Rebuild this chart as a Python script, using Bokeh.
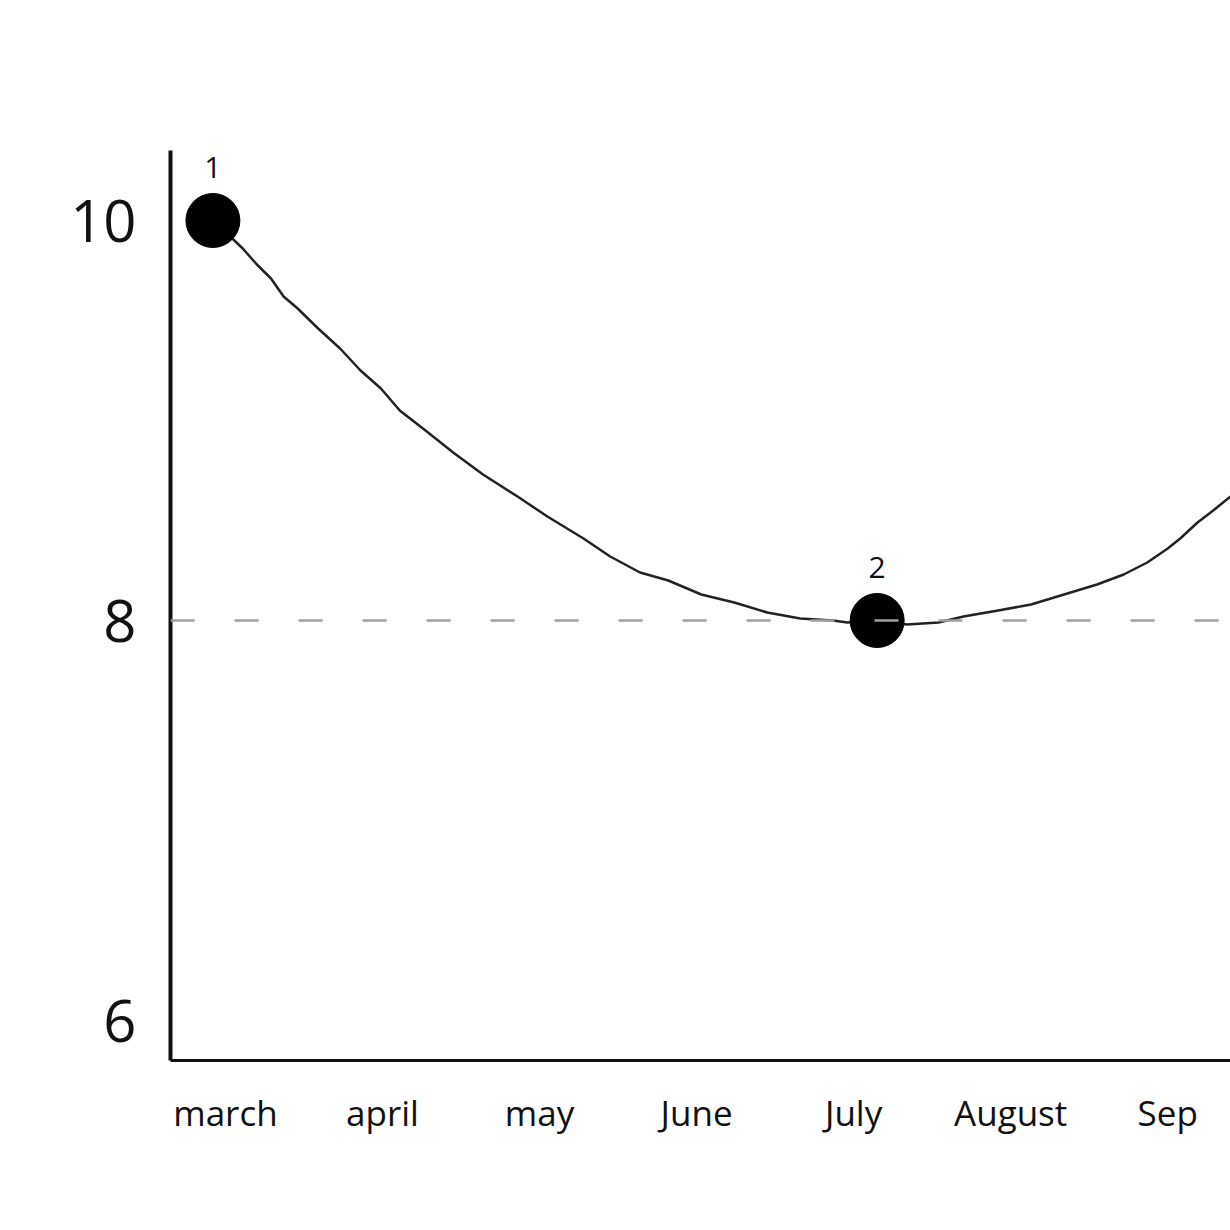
from bokeh.plotting import figure
from bokeh.models import FixedTicker, Range1d, Span, ColumnDataSource
from bokeh.core.properties import value
from bokeh.embed import file_html
from bokeh.resources import INLINE

# ---- data ----
months = ["march", "april", "may", "June", "July", "August", "Sep"]
month_pos = [0, 1, 2, 3, 4, 5, 6]
y_ticks = [6, 8, 10]

curve_x = [-0.08, 0.03, 0.11, 0.20, 0.29, 0.37, 0.46, 0.59, 0.73, 0.86, 0.99, 1.11,
           1.29, 1.45, 1.64, 1.86, 2.05, 2.28, 2.45, 2.64, 2.82, 3.03, 3.24, 3.45,
           3.66, 3.87, 3.96, 4.15, 4.34, 4.54, 4.70, 4.92, 5.13, 5.34, 5.55, 5.72,
           5.87, 6.00, 6.08, 6.19, 6.29, 6.40]
curve_y = [10.00, 9.92, 9.86, 9.78, 9.71, 9.62, 9.56, 9.46, 9.36, 9.25, 9.16, 9.05,
           8.94, 8.84, 8.73, 8.62, 8.52, 8.41, 8.32, 8.24, 8.20, 8.13, 8.09, 8.04,
           8.01, 8.00, 7.99, 8.00, 7.98, 7.99, 8.02, 8.05, 8.08, 8.13, 8.18, 8.23,
           8.29, 8.36, 8.41, 8.49, 8.55, 8.62]

point_x = [-0.08, 4.15]
point_y = [10.0, 8.0]
point_labels = ["1", "2"]

reference_level = 8

FONT = "Open Sans"

p = figure(width=1230, height=1230, output_backend="svg", toolbar_location=None,
           x_range=Range1d(-0.35, 6.40), y_range=Range1d(5.8, 10.35),
           min_border_left=170, min_border_right=0, min_border_top=150,
           min_border_bottom=170)

p.background_fill_color = "white"
p.border_fill_color = "white"
p.outline_line_color = None
p.grid.grid_line_color = None

# axes
for ax in (p.xaxis, p.yaxis):
    ax.major_tick_line_color = None
    ax.minor_tick_line_color = None
    ax.axis_line_color = "#111111"
    ax.major_label_text_color = "#111111"
    ax.major_label_text_font = FONT

p.yaxis.axis_line_width = 4
p.xaxis.axis_line_width = 3
p.yaxis.ticker = FixedTicker(ticks=y_ticks)
p.yaxis.major_label_text_font_size = "58px"
p.yaxis.major_label_standoff = 28
p.xaxis.ticker = FixedTicker(ticks=month_pos)
p.xaxis.major_label_overrides = {m: lab for m, lab in zip(month_pos, months)}
p.xaxis.major_label_text_font_size = "35px"
p.xaxis.major_label_standoff = 22

# dashed reference line
p.add_layout(Span(location=reference_level, dimension="width", line_color="#a0a0a0",
                  line_width=2.5, line_dash="24 40"))

# curve
p.line(curve_x, curve_y, line_color="#222222", line_width=2.5, line_join="round")

# points
src = ColumnDataSource(dict(x=point_x, y=point_y, label=point_labels))
p.scatter("x", "y", source=src, size=54, fill_color="black", line_color="black")
p.text("x", "y", text="label", source=src, text_font=value(FONT),
       text_font_size="30px", text_align="center", text_baseline="middle",
       y_offset=-53, text_color="#111111")

open("out.html", "w").write(file_html(p, INLINE))
